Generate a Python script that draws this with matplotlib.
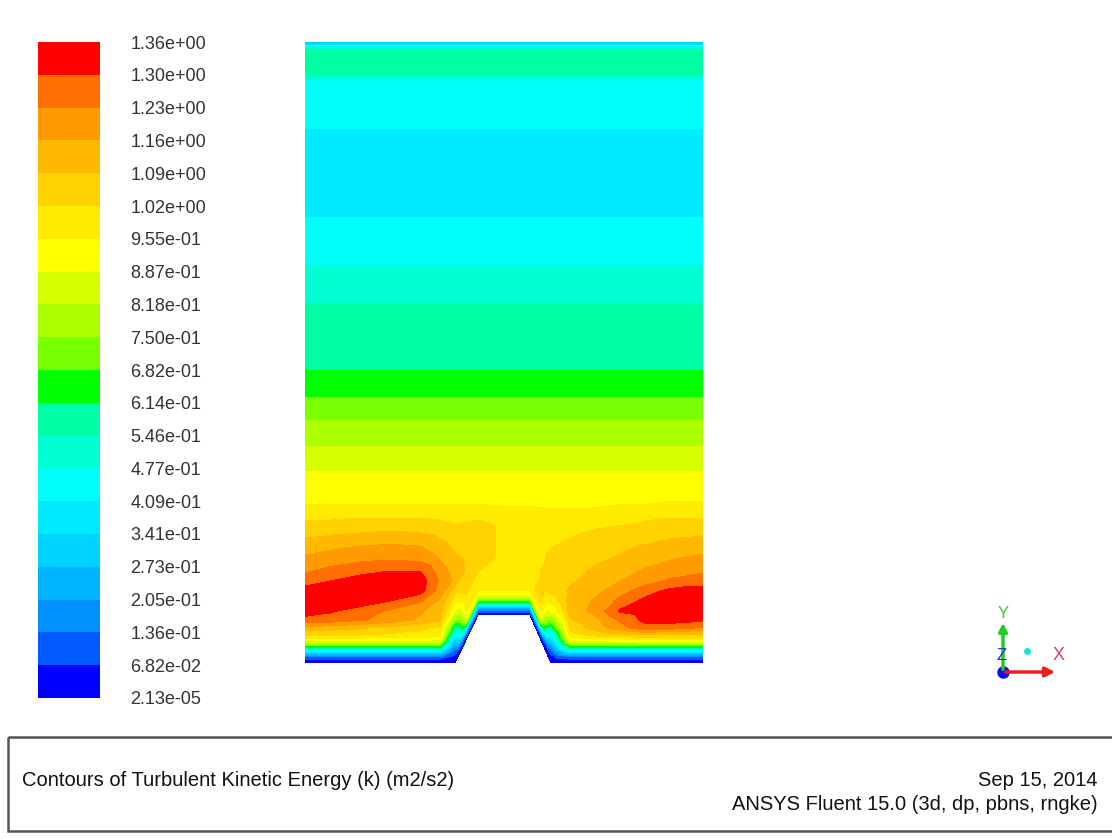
import numpy as np
import matplotlib.pyplot as plt
import matplotlib.tri as mtri
from matplotlib.colors import ListedColormap, BoundaryNorm
from matplotlib.cm import ScalarMappable
from matplotlib.patches import Rectangle

plt.rcParams['font.family'] = ['Liberation Sans', 'DejaVu Sans']

# colour scale: 21 level labels, 20 bands (bottom to top)
level_labels = ['2.13e-05', '6.82e-02', '1.36e-01', '2.05e-01', '2.73e-01',
                '3.41e-01', '4.09e-01', '4.77e-01', '5.46e-01', '6.14e-01',
                '6.82e-01', '7.50e-01', '8.18e-01', '8.87e-01', '9.55e-01',
                '1.02e+00', '1.09e+00', '1.16e+00', '1.23e+00', '1.30e+00',
                '1.36e+00']
levels = [float(s) for s in level_labels]

band_colors = ['#0000ff', '#005aff', '#0091ff', '#00b4ff', '#00d2ff',
               '#00ebff', '#00fffa', '#00ffd2', '#00ffa5', '#00ff00',
               '#78ff00', '#aaff00', '#d7ff00', '#ffff00', '#ffeb00',
               '#ffd200', '#ffb900', '#ff9b00', '#ff6e00', '#ff0000']

# sampling columns across the channel and floor height there (trapezoid bump)
x_cols = [0.00, 0.25, 0.55, 0.85, 1.15, 1.35, 1.50, 1.615, 1.73, 1.99, 2.25,
          2.355, 2.46, 2.65, 2.90, 3.15, 3.40, 3.65, 3.98]
floor = [0, 0, 0, 0, 0, 0, 0, 0.24, 0.48, 0.48, 0.48, 0.24, 0, 0, 0, 0, 0, 0, 0]
blend_top = 1.6

# near-floor rows, given as distance above the local floor
d_rows = [0.00, 0.03, 0.07, 0.11, 0.16, 0.21, 0.27, 0.35, 0.43, 0.52, 0.62,
          0.72, 0.82, 0.92, 1.03, 1.15, 1.30, 1.45, 1.60]
k_near = [
    [0.01, 0.01, 0.01, 0.01, 0.01, 0.01, 0.01, 0.01, 0.01, 0.01, 0.01, 0.01, 0.01, 0.01, 0.01, 0.01, 0.01, 0.01, 0.01],
    [0.04, 0.04, 0.04, 0.04, 0.04, 0.04, 0.02, 0.04, 0.04, 0.04, 0.04, 0.04, 0.02, 0.04, 0.04, 0.04, 0.04, 0.04, 0.04],
    [0.16, 0.16, 0.16, 0.16, 0.16, 0.16, 0.05, 0.14, 0.14, 0.14, 0.14, 0.14, 0.05, 0.16, 0.16, 0.16, 0.16, 0.16, 0.16],
    [0.36, 0.36, 0.36, 0.36, 0.36, 0.36, 0.10, 0.34, 0.30, 0.30, 0.30, 0.34, 0.10, 0.36, 0.36, 0.36, 0.36, 0.36, 0.36],
    [0.62, 0.62, 0.62, 0.62, 0.62, 0.62, 0.16, 0.58, 0.52, 0.52, 0.52, 0.58, 0.16, 0.62, 0.62, 0.62, 0.62, 0.62, 0.62],
    [0.85, 0.85, 0.85, 0.85, 0.85, 0.84, 0.26, 0.80, 0.72, 0.72, 0.72, 0.80, 0.26, 0.84, 0.85, 0.86, 0.87, 0.87, 0.87],
    [1.02, 1.02, 1.01, 1.00, 0.99, 0.97, 0.38, 0.92, 0.86, 0.86, 0.86, 0.92, 0.38, 0.98, 1.02, 1.04, 1.06, 1.06, 1.06],
    [1.13, 1.12, 1.10, 1.07, 1.04, 1.00, 0.57, 0.97, 0.96, 0.96, 0.96, 0.97, 0.57, 1.04, 1.12, 1.20, 1.27, 1.26, 1.22],
    [1.28, 1.27, 1.24, 1.20, 1.15, 1.10, 0.74, 1.00, 1.00, 0.99, 1.00, 1.02, 0.74, 1.08, 1.14, 1.24, 1.32, 1.33, 1.31],
    [1.33, 1.31, 1.27, 1.22, 1.17, 1.12, 0.88, 1.02, 1.00, 0.99, 1.00, 1.04, 0.88, 1.12, 1.18, 1.31, 1.34, 1.35, 1.34],
    [1.35, 1.35, 1.34, 1.30, 1.24, 1.15, 0.98, 1.06, 1.02, 1.00, 1.00, 1.03, 0.98, 1.12, 1.17, 1.25, 1.32, 1.35, 1.35],
    [1.33, 1.35, 1.35, 1.35, 1.33, 1.20, 1.05, 1.07, 1.03, 1.00, 1.00, 1.02, 1.04, 1.10, 1.14, 1.20, 1.27, 1.32, 1.33],
    [1.27, 1.30, 1.33, 1.34, 1.34, 1.22, 1.14, 1.08, 1.04, 1.01, 1.00, 1.02, 1.05, 1.08, 1.12, 1.16, 1.20, 1.24, 1.27],
    [1.22, 1.25, 1.28, 1.30, 1.30, 1.20, 1.13, 1.08, 1.04, 1.01, 1.00, 1.01, 1.04, 1.07, 1.10, 1.13, 1.17, 1.20, 1.22],
    [1.18, 1.20, 1.22, 1.23, 1.22, 1.16, 1.10, 1.07, 1.04, 1.01, 1.00, 1.01, 1.03, 1.05, 1.08, 1.10, 1.13, 1.16, 1.18],
    [1.13, 1.15, 1.17, 1.18, 1.17, 1.12, 1.08, 1.06, 1.04, 1.01, 1.00, 1.00, 1.02, 1.04, 1.06, 1.08, 1.10, 1.12, 1.14],
    [1.07, 1.08, 1.09, 1.10, 1.09, 1.07, 1.05, 1.04, 1.03, 1.01, 1.00, 1.00, 1.00, 1.01, 1.03, 1.04, 1.06, 1.07, 1.08],
    [1.01, 1.01, 1.02, 1.02, 1.02, 1.01, 1.00, 1.00, 1.00, 0.99, 0.98, 0.98, 0.98, 0.98, 0.99, 1.00, 1.01, 1.02, 1.02],
    [0.95, 0.95, 0.95, 0.95, 0.95, 0.95, 0.95, 0.95, 0.95, 0.94, 0.94, 0.94, 0.94, 0.94, 0.94, 0.95, 0.95, 0.96, 0.96],
]

# upper part of the channel: bands run straight across
y_upper = [1.73, 1.93, 2.06, 2.18, 2.31, 2.43, 2.53, 2.65, 2.78, 2.93, 3.23, 3.58,
           3.78, 3.98, 4.23, 4.45, 4.63, 4.88, 5.23, 5.35, 5.63, 5.83, 5.88, 6.01,
           6.13, 6.17, 6.21]
k_upper = [0.92, 0.885, 0.85, 0.815, 0.785, 0.75, 0.72, 0.683, 0.65, 0.614, 0.58, 0.548,
           0.51, 0.477, 0.445, 0.41, 0.38, 0.375, 0.39, 0.41, 0.43, 0.47, 0.55, 0.57,
           0.55, 0.45, 0.22]

# body-fitted grid -> triangulation (keeps the bump hollow)
xc = np.array(x_cols)
fl = np.array(floor)
Y_near = np.array([fl + d * (blend_top - fl) / blend_top for d in d_rows])
Y_up = np.repeat(np.array(y_upper)[:, None], len(xc), axis=1)
Y = np.vstack([Y_near, Y_up])
X = np.repeat(xc[None, :], Y.shape[0], axis=0)
K = np.vstack([np.array(k_near), np.repeat(np.array(k_upper)[:, None], len(xc), axis=1)])

nr, nc = Y.shape
tris = []
for j in range(nr - 1):
    for i in range(nc - 1):
        a = j * nc + i
        tris.append([a, a + 1, a + nc + 1])
        tris.append([a, a + nc + 1, a + nc])
tri = mtri.Triangulation(X.ravel(), Y.ravel(), np.array(tris))

cmap = ListedColormap(band_colors)
cmap.set_under(band_colors[0])
cmap.set_over(band_colors[-1])
norm = BoundaryNorm(levels, cmap.N)

W, H = 1112, 839
fig = plt.figure(figsize=(W / 100, H / 100), dpi=100)

# overlay in pixel coordinates for the frame box and axis triad
ov = fig.add_axes([0, 0, 1, 1])
ov.set_xlim(0, W)
ov.set_ylim(H, 0)
ov.axis('off')

# contour plot
ax = fig.add_axes([305 / W, (H - 663) / H, 398 / W, 621 / H])
ax.tricontourf(tri, K.ravel(), levels=levels, cmap=cmap, norm=norm, extend='both')
ax.set_xlim(0, 3.98)
ax.set_ylim(0, 6.21)
ax.axis('off')

# colour bar
cax = fig.add_axes([38 / W, (H - 698) / H, 62 / W, 656 / H])
cb = fig.colorbar(ScalarMappable(norm=norm, cmap=cmap), cax=cax, ticks=levels)
cb.outline.set_visible(False)
cb.set_ticklabels(level_labels)
cax.tick_params(length=0, pad=22, labelsize=13, labelcolor='#333333')

# footer box
ov.add_patch(Rectangle((8, 737), 1110, 94, fill=False, edgecolor='#555555', lw=1.8))
ov.text(22, 781, 'Contours of Turbulent Kinetic Energy (k) (m2/s2)', fontsize=14.5,
        va='center', ha='left', color='#111111')
ov.text(1098, 781, 'Sep 15, 2014', fontsize=14.5, va='center', ha='right', color='#111111')
ov.text(1098, 804, 'ANSYS Fluent 15.0 (3d, dp, pbns, rngke)', fontsize=14.5,
        va='center', ha='right', color='#111111')

# axis triad
ov.annotate('', xy=(1058, 672), xytext=(1003, 672),
            arrowprops=dict(arrowstyle='-|>', color='#ee1c1c', lw=2.5, mutation_scale=14))
ov.annotate('', xy=(1003, 620), xytext=(1003, 672),
            arrowprops=dict(arrowstyle='-|>', color='#22cc22', lw=2.5, mutation_scale=12))
ov.plot([1003], [672], 'o', color='#1010ee', markersize=8)
ov.plot([1027], [651], 'o', color='#22dddd', markersize=4)
ov.text(1003, 613, 'Y', color='#33cc33', fontsize=12, ha='center', va='center')
ov.text(1002, 656, 'Z', color='#2233cc', fontsize=12, ha='center', va='center')
ov.text(1059, 655, 'X', color='#d04060', fontsize=13, ha='center', va='center')

fig.savefig('out.png', dpi=100)
